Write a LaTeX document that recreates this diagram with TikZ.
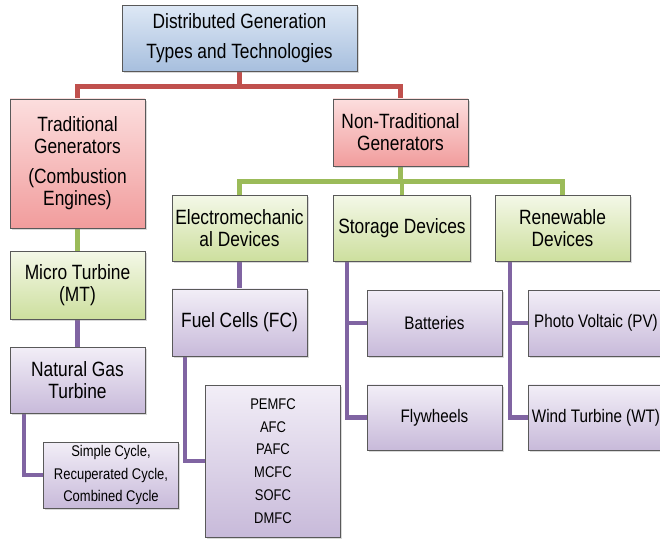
\documentclass[tikz,border=0pt]{standalone}
\usepackage{fontspec}
\setmainfont{Liberation Sans}[FakeStretch=0.84]
\usetikzlibrary{positioning,calc,backgrounds,shadows}

\definecolor{dgline}{HTML}{C0504D}
\definecolor{grline}{HTML}{9BBB59}
\definecolor{puline}{HTML}{8064A2}

\begin{document}
\begin{tikzpicture}[x=0.75pt, y=-0.75pt,
  box/.style={draw=black!65, line width=0.5pt, align=center, inner sep=2pt,
    minimum width=101pt, minimum height=49.5pt,
    drop shadow={shadow xshift=1.3pt, shadow yshift=-1.3pt, opacity=0.3}},
  big/.style={font=\fontsize{15.5}{16.5}\selectfont},
  mid/.style={font=\fontsize{13.6}{15}\selectfont},
  small/.style={font=\fontsize{11.6}{17.1}\selectfont},
  blu/.style={box, big, top color={rgb,255:red,222;green,232;blue,245}, bottom color={rgb,255:red,167;green,191;blue,222}},
  rd/.style={box, big, top color={rgb,255:red,252;green,222;blue,222}, bottom color={rgb,255:red,241;green,156;blue,156}},
  grn/.style={box, big, top color={rgb,255:red,244;green,248;blue,232}, bottom color={rgb,255:red,205;green,223;blue,158}},
  pur/.style={box, top color={rgb,255:red,242;green,238;blue,247}, bottom color={rgb,255:red,200;green,186;blue,218}},
  link/.style={line width=3.4pt}]
\useasboundingbox (0,0) rectangle (660,539);

% top level
\node[blu, minimum width=176pt, font=\fontsize{15.5}{22.5}\selectfont] (dg) at (239.5,38) {Distributed Generation\\Types and Technologies};

% generator classes
\node[rd, minimum height=96.8pt] (trad) at (77.5,163.5) {Traditional\\Generators\\[6pt](Combustion\\Engines)};
\node[rd, minimum height=50.3pt] (ntrad) at (400.5,132.5) {Non-Traditional\\Generators};

% traditional branch
\node[grn, minimum height=51pt] (mt) at (77.5,285) {Micro Turbine\\(MT)};
\node[pur, big] (ngt) at (77.5,380) {Natural Gas\\Turbine};
\node[pur, small] (cyc) at (111,475) {Simple Cycle,\\Recuperated Cycle,\\Combined Cycle};

% non-traditional branch
\node[grn] (elec) at (239.5,228) {Electromechanic\\al Devices};
\node[grn, minimum width=102.8pt] (stor) at (402,228) {Storage Devices};
\node[grn] (renew) at (562.5,228) {Renewable\\Devices};

\node[pur, big, minimum height=50.3pt] (fc) at (239.5,322.5) {Fuel Cells (FC)};
\node[pur, small, minimum height=114pt] (fctype) at (273,461) {PEMFC\\AFC\\PAFC\\MCFC\\SOFC\\DMFC};

\node[pur, mid] (bat) at (434.5,323) {Batteries};
\node[pur, mid, minimum height=48.8pt] (fly) at (434.5,417.5) {Flywheels};
\node[pur, mid] (pv) at (596,323) {Photo Voltaic (PV)};
\node[pur, mid, minimum height=48.8pt] (wt) at (596,417.5) {Wind Turbine (WT)};

\begin{scope}[on background layer]
\draw[link, dgline] (dg.south) -- ++(0,15) -| (trad.north);
\draw[link, dgline] (dg.south) -- ++(0,15) -| (ntrad.north);

\draw[link, grline] (ntrad.south) -- ++(0,15) -| (elec.north);
\draw[link, grline] (ntrad.south) -- ++(0,15) -| (stor.north);
\draw[link, grline] (ntrad.south) -- ++(0,15) -| (renew.north);
\draw[link, grline] (trad) -- (mt);

\draw[link, puline] (mt) -- (ngt);
\draw[link, puline] ($(ngt.south west)+(14,0)$) |- (cyc.west);
\draw[link, puline] (elec) -- (fc);
\draw[link, puline] ($(fc.south west)+(13,0)$) |- (fctype.west);
\draw[link, puline] ($(stor.south west)+(14,0)$) |- (bat.west);
\draw[link, puline] ($(stor.south west)+(14,0)$) |- (fly.west);
\draw[link, puline] ($(renew.south west)+(15,0)$) |- (pv.west);
\draw[link, puline] ($(renew.south west)+(15,0)$) |- (wt.west);
\end{scope}
\end{tikzpicture}
\end{document}
